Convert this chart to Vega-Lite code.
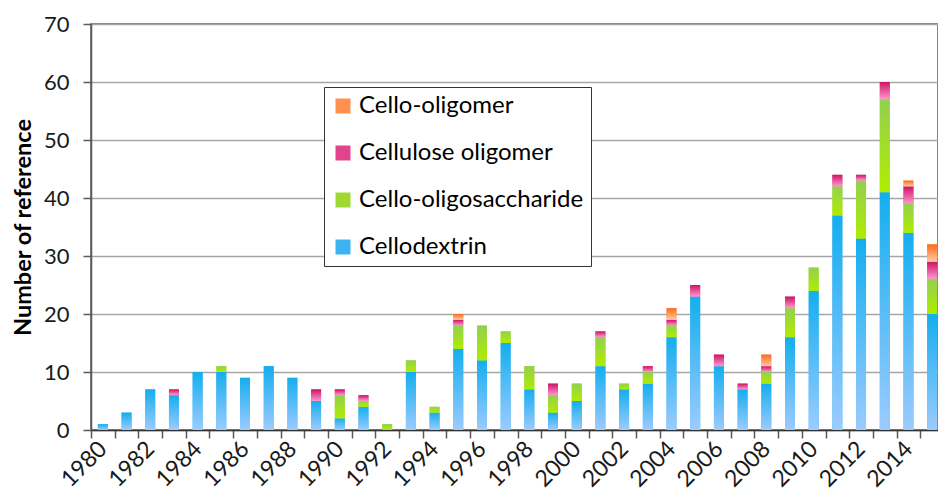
{
  "$schema": "https://vega.github.io/schema/vega-lite/v6.json",
  "width": 847,
  "height": 406,
  "autosize": "none",
  "padding": {"left": 91, "top": 24, "right": 0, "bottom": 63},
  "config": {
    "font": "Lato",
    "view": {"stroke": "#595959", "strokeWidth": 1.5}
  },
  "data": {
    "values": [
      {"year": 1980, "type": "Cellodextrin", "count": 1},
      {"year": 1981, "type": "Cellodextrin", "count": 3},
      {"year": 1982, "type": "Cellodextrin", "count": 7},
      {"year": 1983, "type": "Cellodextrin", "count": 6},
      {"year": 1983, "type": "Cellulose oligomer", "count": 1},
      {"year": 1984, "type": "Cellodextrin", "count": 10},
      {"year": 1985, "type": "Cellodextrin", "count": 10},
      {"year": 1985, "type": "Cello-oligosaccharide", "count": 1},
      {"year": 1986, "type": "Cellodextrin", "count": 9},
      {"year": 1987, "type": "Cellodextrin", "count": 11},
      {"year": 1988, "type": "Cellodextrin", "count": 9},
      {"year": 1989, "type": "Cellodextrin", "count": 5},
      {"year": 1989, "type": "Cellulose oligomer", "count": 2},
      {"year": 1990, "type": "Cellodextrin", "count": 2},
      {"year": 1990, "type": "Cello-oligosaccharide", "count": 4},
      {"year": 1990, "type": "Cellulose oligomer", "count": 1},
      {"year": 1991, "type": "Cellodextrin", "count": 4},
      {"year": 1991, "type": "Cello-oligosaccharide", "count": 1},
      {"year": 1991, "type": "Cellulose oligomer", "count": 1},
      {"year": 1992, "type": "Cello-oligosaccharide", "count": 1},
      {"year": 1993, "type": "Cellodextrin", "count": 10},
      {"year": 1993, "type": "Cello-oligosaccharide", "count": 2},
      {"year": 1994, "type": "Cellodextrin", "count": 3},
      {"year": 1994, "type": "Cello-oligosaccharide", "count": 1},
      {"year": 1995, "type": "Cellodextrin", "count": 14},
      {"year": 1995, "type": "Cello-oligosaccharide", "count": 4},
      {"year": 1995, "type": "Cellulose oligomer", "count": 1},
      {"year": 1995, "type": "Cello-oligomer", "count": 1},
      {"year": 1996, "type": "Cellodextrin", "count": 12},
      {"year": 1996, "type": "Cello-oligosaccharide", "count": 6},
      {"year": 1997, "type": "Cellodextrin", "count": 15},
      {"year": 1997, "type": "Cello-oligosaccharide", "count": 2},
      {"year": 1998, "type": "Cellodextrin", "count": 7},
      {"year": 1998, "type": "Cello-oligosaccharide", "count": 4},
      {"year": 1999, "type": "Cellodextrin", "count": 3},
      {"year": 1999, "type": "Cello-oligosaccharide", "count": 3},
      {"year": 1999, "type": "Cellulose oligomer", "count": 2},
      {"year": 2000, "type": "Cellodextrin", "count": 5},
      {"year": 2000, "type": "Cello-oligosaccharide", "count": 3},
      {"year": 2001, "type": "Cellodextrin", "count": 11},
      {"year": 2001, "type": "Cello-oligosaccharide", "count": 5},
      {"year": 2001, "type": "Cellulose oligomer", "count": 1},
      {"year": 2002, "type": "Cellodextrin", "count": 7},
      {"year": 2002, "type": "Cello-oligosaccharide", "count": 1},
      {"year": 2003, "type": "Cellodextrin", "count": 8},
      {"year": 2003, "type": "Cello-oligosaccharide", "count": 2},
      {"year": 2003, "type": "Cellulose oligomer", "count": 1},
      {"year": 2004, "type": "Cellodextrin", "count": 16},
      {"year": 2004, "type": "Cello-oligosaccharide", "count": 2},
      {"year": 2004, "type": "Cellulose oligomer", "count": 1},
      {"year": 2004, "type": "Cello-oligomer", "count": 2},
      {"year": 2005, "type": "Cellodextrin", "count": 23},
      {"year": 2005, "type": "Cellulose oligomer", "count": 2},
      {"year": 2006, "type": "Cellodextrin", "count": 11},
      {"year": 2006, "type": "Cellulose oligomer", "count": 2},
      {"year": 2007, "type": "Cellodextrin", "count": 7},
      {"year": 2007, "type": "Cellulose oligomer", "count": 1},
      {"year": 2008, "type": "Cellodextrin", "count": 8},
      {"year": 2008, "type": "Cello-oligosaccharide", "count": 2},
      {"year": 2008, "type": "Cellulose oligomer", "count": 1},
      {"year": 2008, "type": "Cello-oligomer", "count": 2},
      {"year": 2009, "type": "Cellodextrin", "count": 16},
      {"year": 2009, "type": "Cello-oligosaccharide", "count": 5},
      {"year": 2009, "type": "Cellulose oligomer", "count": 2},
      {"year": 2010, "type": "Cellodextrin", "count": 24},
      {"year": 2010, "type": "Cello-oligosaccharide", "count": 4},
      {"year": 2011, "type": "Cellodextrin", "count": 37},
      {"year": 2011, "type": "Cello-oligosaccharide", "count": 5},
      {"year": 2011, "type": "Cellulose oligomer", "count": 2},
      {"year": 2012, "type": "Cellodextrin", "count": 33},
      {"year": 2012, "type": "Cello-oligosaccharide", "count": 10},
      {"year": 2012, "type": "Cellulose oligomer", "count": 1},
      {"year": 2013, "type": "Cellodextrin", "count": 41},
      {"year": 2013, "type": "Cello-oligosaccharide", "count": 16},
      {"year": 2013, "type": "Cellulose oligomer", "count": 3},
      {"year": 2014, "type": "Cellodextrin", "count": 34},
      {"year": 2014, "type": "Cello-oligosaccharide", "count": 5},
      {"year": 2014, "type": "Cellulose oligomer", "count": 3},
      {"year": 2014, "type": "Cello-oligomer", "count": 1},
      {"year": 2015, "type": "Cellodextrin", "count": 20},
      {"year": 2015, "type": "Cello-oligosaccharide", "count": 6},
      {"year": 2015, "type": "Cellulose oligomer", "count": 3},
      {"year": 2015, "type": "Cello-oligomer", "count": 3}
    ]
  },
  "transform": [
    {"calculate": "indexof(['Cellodextrin','Cello-oligosaccharide','Cellulose oligomer','Cello-oligomer'], datum.type)", "as": "stackOrder"}
  ],
  "encoding": {
    "x": {
      "field": "year",
      "type": "ordinal",
      "scale": {"range": [0, 853], "paddingInner": 0, "paddingOuter": 0},
      "axis": {
        "title": null,
        "labelAngle": -45,
        "labelAlign": "right",
        "labelBaseline": "middle",
        "labelFontSize": 23,
        "labelColor": "#1a1a1a",
        "labelExpr": "datum.value % 2 === 0 ? datum.label : ''",
        "tickBand": "extent",
        "tickSize": 8,
        "tickColor": "#595959",
        "tickWidth": 1.5,
        "domainColor": "#333333",
        "domainWidth": 1.5,
        "labelPadding": 7,
        "labelOverlap": false
      }
    },
    "y": {
      "field": "count",
      "type": "quantitative",
      "stack": "zero",
      "scale": {"domain": [0, 70], "nice": false},
      "axis": {
        "title": "Number of reference",
        "titleFontSize": 23.5,
        "titleFontWeight": "bold",
        "titleColor": "#000000",
        "titlePadding": 8,
        "values": [0, 10, 20, 30, 40, 50, 60, 70],
        "labelFontSize": 22,
        "labelColor": "#1a1a1a",
        "labelPadding": 14,
        "tickSize": 8,
        "tickColor": "#595959",
        "tickWidth": 1.5,
        "domainColor": "#595959",
        "domainWidth": 1.5,
        "gridColor": "#a6a6a6",
        "gridWidth": 1.5
      }
    },
    "order": {"field": "stackOrder", "type": "quantitative", "sort": "ascending"}
  },
  "layer": [
    {
      "mark": {"type": "bar", "width": {"band": 0.42}},
      "encoding": {
        "color": {
          "field": "type",
          "type": "nominal",
          "scale": {
            "domain": ["Cello-oligomer", "Cellulose oligomer", "Cello-oligosaccharide", "Cellodextrin"],
            "range": ["#ff9050", "#e2448c", "#9ed830", "#3cb4f2"]
          },
          "legend": {
            "title": null,
            "orient": "none",
            "legendX": 233,
            "legendY": 63,
            "fillColor": "#ffffff",
            "strokeColor": "#333333",
            "padding": 7,
            "symbolType": "square",
            "symbolSize": 225,
            "symbolStrokeWidth": 0,
            "symbolOpacity": 1,
            "labelFontSize": 24,
            "labelColor": "#000000",
            "labelOffset": 4,
            "rowPadding": 23,
            "labelLimit": 400
          }
        }
      }
    },
    {
      "mark": {"type": "bar", "width": {"band": 0.42}},
      "encoding": {
        "detail": {"field": "type", "type": "nominal"},
        "color": {
          "condition": [
            {"test": "datum.type === 'Cello-oligomer'", "value": {"gradient": "linear", "x1": 0, "y1": 0, "x2": 0, "y2": 1, "stops": [{"offset": 0, "color": "#ff6a1a"}, {"offset": 1, "color": "#ffcca6"}]}},
            {"test": "datum.type === 'Cellulose oligomer'", "value": {"gradient": "linear", "x1": 0, "y1": 0, "x2": 0, "y2": 1, "stops": [{"offset": 0, "color": "#cc1466"}, {"offset": 1, "color": "#ff99cc"}]}},
            {"test": "datum.type === 'Cello-oligosaccharide'", "value": {"gradient": "linear", "x1": 0, "y1": 0, "x2": 0, "y2": 1, "stops": [{"offset": 0, "color": "#92d050"}, {"offset": 1, "color": "#b0ec00"}]}}
          ],
          "value": {"gradient": "linear", "x1": 0, "y1": 0, "x2": 0, "y2": 1, "stops": [{"offset": 0, "color": "#14aeee"}, {"offset": 1, "color": "#9ccbff"}]}
        }
      }
    }
  ]
}
